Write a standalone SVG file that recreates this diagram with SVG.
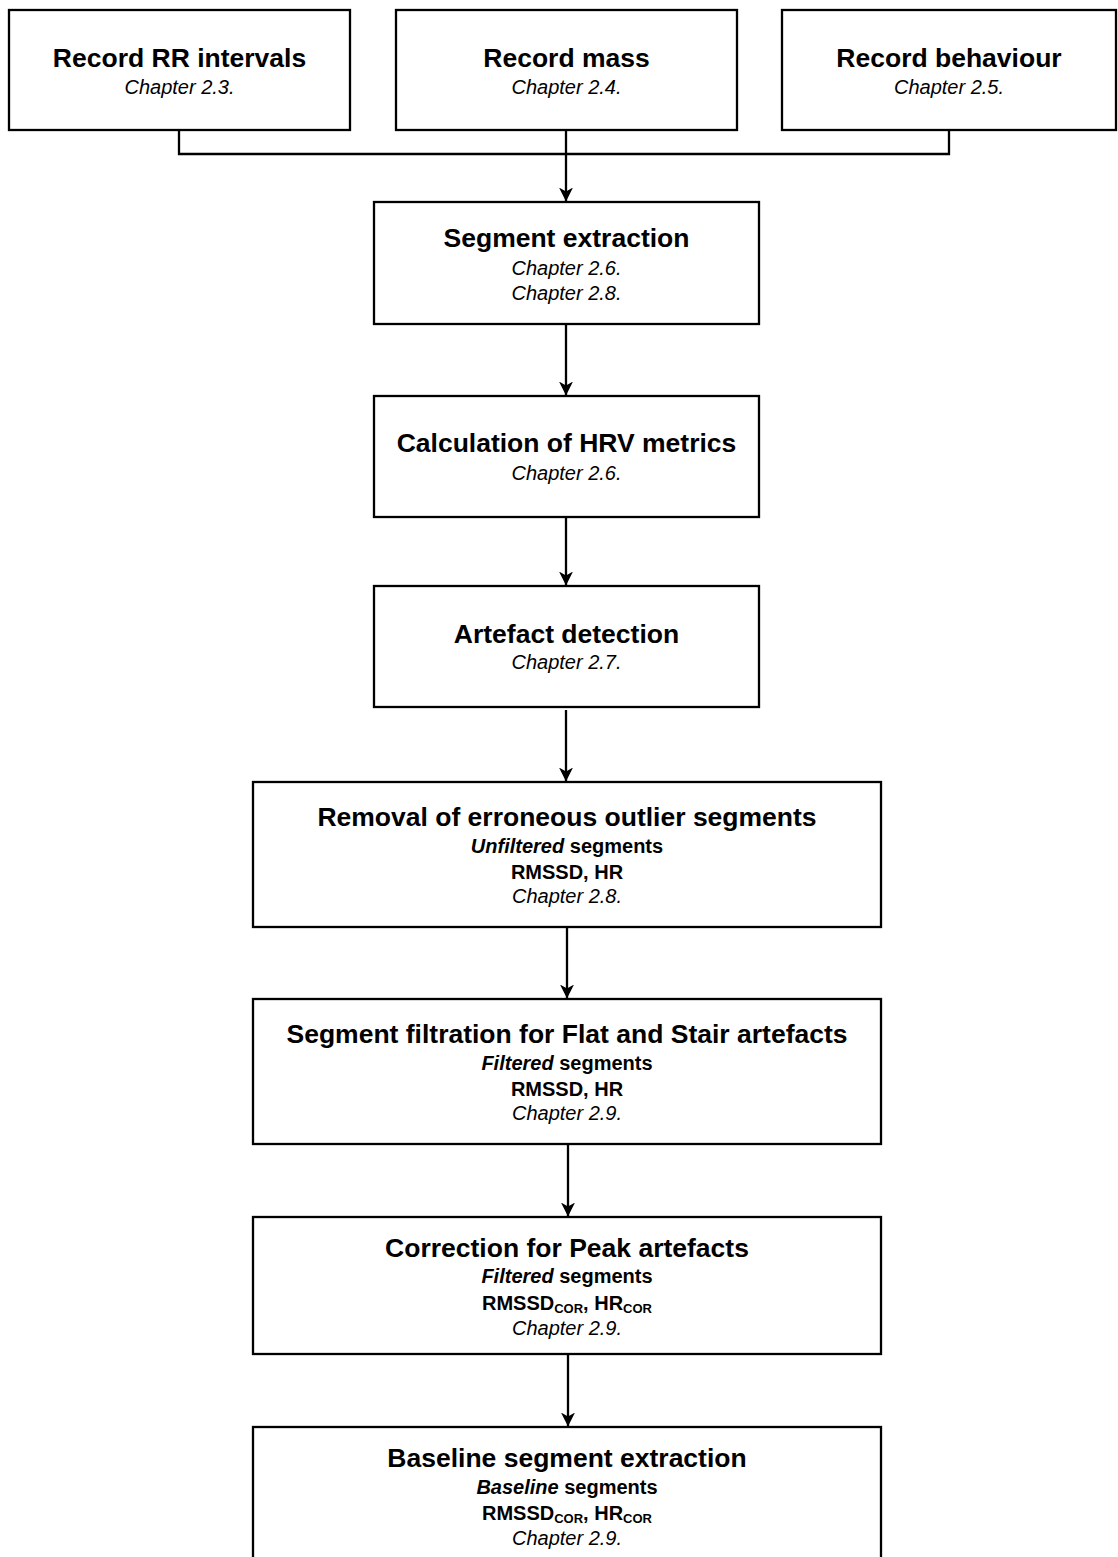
<svg xmlns="http://www.w3.org/2000/svg" width="1118" height="1557" viewBox="0 0 1118 1557">
<style>
  .box { fill: #ffffff; stroke: #000000; stroke-width: 2.3; }
  .conn { fill: none; stroke: #000000; stroke-width: 2.3; }
  text { font-family: "Liberation Sans", Arial, Helvetica, sans-serif; fill: #000000; text-anchor: middle; }
  .title { font-size: 26.5px; font-weight: bold; }
  .ch { font-size: 20px; font-style: italic; }
  .sub { font-size: 20px; font-weight: bold; }
  .it { font-style: italic; }
  .sc { font-size: 13px; }
</style>
<defs>
  <marker id="arr" viewBox="0 0 14 15" refX="13.5" refY="7.5" markerWidth="14" markerHeight="15" markerUnits="userSpaceOnUse" orient="auto">
    <path d="M0,0.5 L14,7.5 L0,14.5 L4,7.5 z" fill="#000000"/>
  </marker>
</defs>
<rect width="1118" height="1557" fill="#ffffff"/>

<g id="connectors">
  <path class="conn" d="M179,130 V154 H949 V130"/>
  <path class="conn" d="M566,130 V201" marker-end="url(#arr)"/>
  <path class="conn" d="M566,324 V395" marker-end="url(#arr)"/>
  <path class="conn" d="M566,517 V585" marker-end="url(#arr)"/>
  <path class="conn" d="M566,710 V781" marker-end="url(#arr)"/>
  <path class="conn" d="M567,927 V998" marker-end="url(#arr)"/>
  <path class="conn" d="M568,1144 V1216" marker-end="url(#arr)"/>
  <path class="conn" d="M568,1354 V1426" marker-end="url(#arr)"/>
</g>

<g id="node-rr">
  <rect class="box" x="9" y="10" width="341" height="120"/>
  <text class="title" x="179.5" y="67">Record RR intervals</text>
  <text class="ch" x="179.5" y="94">Chapter 2.3.</text>
</g>
<g id="node-mass">
  <rect class="box" x="396" y="10" width="341" height="120"/>
  <text class="title" x="566.5" y="67">Record mass</text>
  <text class="ch" x="566.5" y="94">Chapter 2.4.</text>
</g>
<g id="node-behaviour">
  <rect class="box" x="782" y="10" width="334" height="120"/>
  <text class="title" x="949" y="67">Record behaviour</text>
  <text class="ch" x="949" y="94">Chapter 2.5.</text>
</g>

<g id="node-segment-extraction">
  <rect class="box" x="374" y="202" width="385" height="122"/>
  <text class="title" x="566.5" y="247">Segment extraction</text>
  <text class="ch" x="566.5" y="275">Chapter 2.6.</text>
  <text class="ch" x="566.5" y="300">Chapter 2.8.</text>
</g>

<g id="node-hrv">
  <rect class="box" x="374" y="396" width="385" height="121"/>
  <text class="title" x="566.5" y="452">Calculation of HRV metrics</text>
  <text class="ch" x="566.5" y="480">Chapter 2.6.</text>
</g>

<g id="node-artefact">
  <rect class="box" x="374" y="586" width="385" height="121"/>
  <text class="title" x="566.5" y="643">Artefact detection</text>
  <text class="ch" x="566.5" y="669">Chapter 2.7.</text>
</g>

<g id="node-removal">
  <rect class="box" x="253" y="782" width="628" height="145"/>
  <text class="title" x="567" y="826">Removal of erroneous outlier segments</text>
  <text class="sub" x="567" y="853"><tspan class="it">Unfiltered</tspan> segments</text>
  <text class="sub" x="567" y="879">RMSSD, HR</text>
  <text class="ch" x="567" y="903">Chapter 2.8.</text>
</g>

<g id="node-filtration">
  <rect class="box" x="253" y="999" width="628" height="145"/>
  <text class="title" x="567" y="1043">Segment filtration for Flat and Stair artefacts</text>
  <text class="sub" x="567" y="1070"><tspan class="it">Filtered</tspan> segments</text>
  <text class="sub" x="567" y="1096">RMSSD, HR</text>
  <text class="ch" x="567" y="1120">Chapter 2.9.</text>
</g>

<g id="node-correction">
  <rect class="box" x="253" y="1217" width="628" height="137"/>
  <text class="title" x="567" y="1257">Correction for Peak artefacts</text>
  <text class="sub" x="567" y="1283"><tspan class="it">Filtered</tspan> segments</text>
  <text class="sub" x="567" y="1310">RMSSD<tspan class="sc" dy="3">COR</tspan><tspan dy="-3">, HR</tspan><tspan class="sc" dy="3">COR</tspan></text>
  <text class="ch" x="567" y="1335">Chapter 2.9.</text>
</g>

<g id="node-baseline">
  <rect class="box" x="253" y="1427" width="628" height="145"/>
  <text class="title" x="567" y="1467">Baseline segment extraction</text>
  <text class="sub" x="567" y="1494"><tspan class="it">Baseline</tspan> segments</text>
  <text class="sub" x="567" y="1520">RMSSD<tspan class="sc" dy="3">COR</tspan><tspan dy="-3">, HR</tspan><tspan class="sc" dy="3">COR</tspan></text>
  <text class="ch" x="567" y="1545">Chapter 2.9.</text>
</g>
</svg>
